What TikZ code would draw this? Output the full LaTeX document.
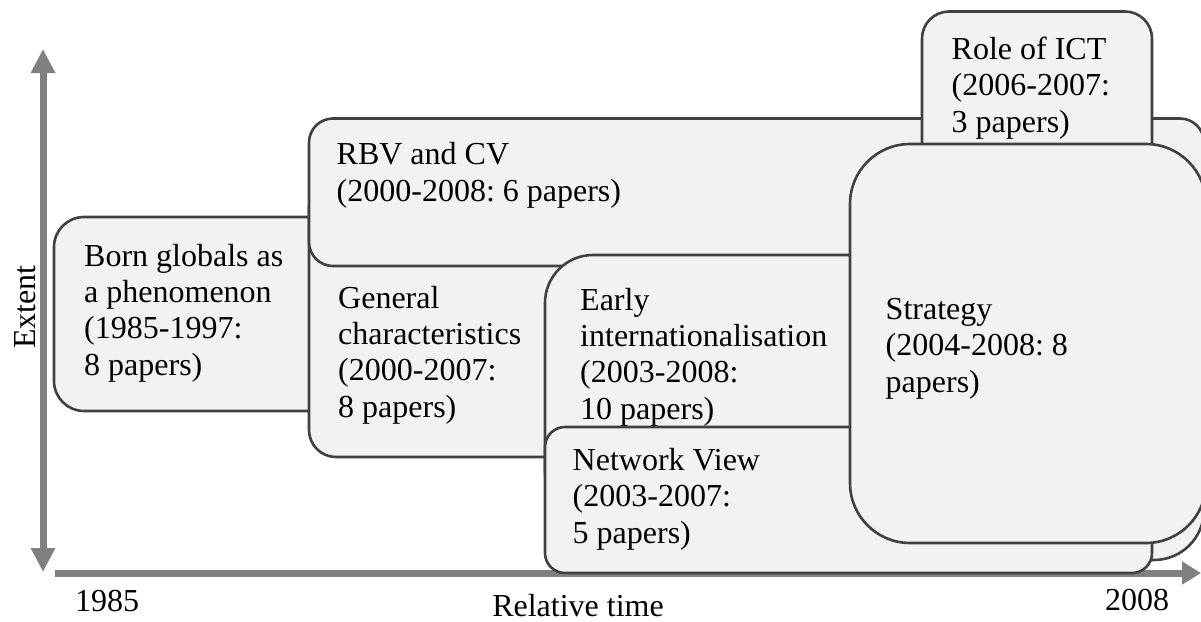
\documentclass[tikz,border=0pt]{standalone}
\usepackage{fontspec}
\setmainfont{Liberation Serif}
\usetikzlibrary{arrows.meta}
\definecolor{boxfill}{HTML}{F2F2F2}
\definecolor{boxline}{HTML}{404040}
\definecolor{axisgray}{HTML}{808080}
\frenchspacing
\begin{document}
\begin{tikzpicture}[x=1pt,y=-1pt,
  topic/.style={draw=boxline, fill=boxfill, line width=2.6pt},
  % labels are placed by the baseline of their last line
  topictext/.style={anchor=base west, align=left, inner sep=0pt,
    font=\fontsize{32}{36.3}\selectfont},
  axislabel/.style={anchor=base, inner sep=0pt, font=\fontsize{32}{36}\selectfont},
  axisline/.style={draw=axisgray, line width=7pt}]
\useasboundingbox (0,0) rectangle (1201,621);
\begin{scope}
\clip (0,0) rectangle (1201,621);

% axes
\coordinate (ytop) at (43,49);
\coordinate (ybot) at (43,572);
\coordinate (xstart) at (55,573);
\coordinate (xend) at (1201,573);
\draw[axisline, {Triangle[length=24pt,width=23pt]}-{Triangle[length=24pt,width=23pt]}] (ytop) -- (ybot);
\draw[axisline, -{Triangle[length=19pt,width=22pt]}] (xstart) -- (xend);

% topic areas, back to front
\path[topic, rounded corners=30pt] (54,217) rectangle (420,411);
\path[topic, rounded corners=50pt] (700,118.5) rectangle (1204,560);
\path[topic, rounded corners=27pt] (309,180) rectangle (600,457);
\path[topic, rounded corners=24pt] (309,118.5) rectangle (1204,266);
\path[topic, rounded corners=48pt] (545,255) rectangle (900,520);
\path[topic, rounded corners=20pt] (545,427) rectangle (1152,573);
\path[topic, rounded corners=27pt] (922,11.5) rectangle (1152,250);
\path[topic, rounded corners=60pt] (850,144) rectangle (1206,543);
\end{scope}

% topic labels
\node[topictext] (born) at (84,375) {Born globals as\\a phenomenon\\(1985-1997:\\8 papers)};
\node[topictext] (rbv) at (336.5,201) {RBV and CV\\(2000-2008: 6 papers)};
\node[topictext] (general) at (338,417) {General\\characteristics\\(2000-2007:\\8 papers)};
\node[topictext] (early) at (580,419) {Early\\internationalisation\\(2003-2008:\\10 papers)};
\node[topictext] (network) at (572.5,543) {Network View\\(2003-2007:\\5 papers)};
\node[topictext] (role) at (951.5,132) {Role of ICT\\(2006-2007:\\3 papers)};
\node[topictext] (strategy) at (885.5,392) {Strategy\\(2004-2008: 8\\papers)};

% axis labels
\node[axislabel] (t0) at (107,611) {1985};
\node[axislabel] (reltime) at (578,616) {Relative time};
\node[axislabel] (t1) at (1137,610) {2008};
\node[axislabel, rotate=90] (extent) at (35,307) {Extent};
\end{tikzpicture}
\end{document}
